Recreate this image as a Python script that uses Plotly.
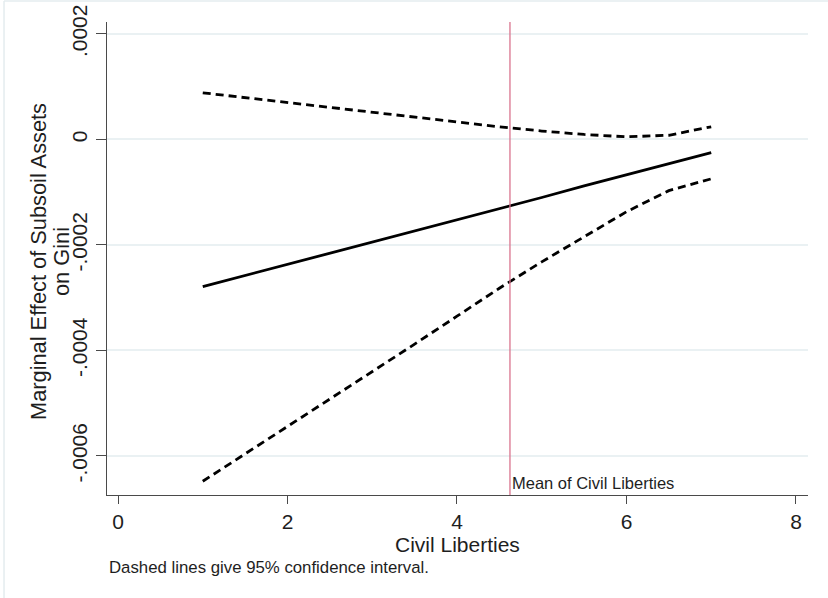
import plotly.graph_objects as go

# Civil Liberties values at which the marginal effect is evaluated
civil_liberties = [1, 1.5, 2, 2.5, 3, 3.5, 4, 4.5, 5, 5.5, 6, 6.5, 7]

# Marginal effect of subsoil assets on Gini, with 95% confidence bounds
marginal_effect = [-0.000279, -0.000258, -0.000237, -0.000215, -0.000194, -0.000173,
                   -0.000152, -0.000131, -0.000110, -0.000088, -0.000067, -0.000046,
                   -0.000025]
upper_bound = [0.0000885, 0.0000792, 0.0000699, 0.0000607, 0.0000514, 0.0000421,
               0.0000328, 0.0000240, 0.0000160, 0.0000095, 0.0000050, 0.0000080,
               0.0000241]
lower_bound = [-0.000648, -0.000596, -0.000544, -0.000493, -0.000440, -0.000388,
               -0.000335, -0.000282, -0.000232, -0.000185, -0.000137, -0.000097,
               -0.0000746]

mean_civil_liberties = 4.625

x_ticks = [0, 2, 4, 6, 8]
y_ticks = [0.0002, 0, -0.0002, -0.0004, -0.0006]
y_tick_labels = [".0002", "0", "-.0002", "-.0004", "-.0006"]

FONT = "Liberation Sans, Arial, sans-serif"
TEXT = "#1e1e1e"
GRID = "#eaf1f3"
AXIS = "#4a4a4a"

fig = go.Figure()

fig.add_trace(go.Scatter(
    x=civil_liberties, y=marginal_effect, mode="lines",
    line=dict(color="black", width=2.8), showlegend=False))
fig.add_trace(go.Scatter(
    x=civil_liberties, y=upper_bound, mode="lines",
    line=dict(color="black", width=2.8, dash="8px,5px"), showlegend=False))
fig.add_trace(go.Scatter(
    x=civil_liberties, y=lower_bound, mode="lines",
    line=dict(color="black", width=2.8, dash="8px,5px"), showlegend=False))

# vertical reference line at the mean
fig.add_shape(type="line", xref="x", yref="y domain",
              x0=mean_civil_liberties, x1=mean_civil_liberties, y0=0, y1=1,
              line=dict(color="#d9748e", width=1.3), layer="above")
fig.add_annotation(x=mean_civil_liberties, y=0, xref="x", yref="y domain",
                   text="Mean of Civil Liberties", showarrow=False,
                   xanchor="left", yanchor="bottom", xshift=0, yshift=1,
                   font=dict(family=FONT, size=16.5, color=TEXT))

# y-axis title, two rotated lines
fig.add_annotation(x=-0.0984, y=0.4926, xref="paper", yref="paper",
                   text="Marginal Effect of Subsoil Assets",
                   textangle=-90, showarrow=False, xanchor="center", yanchor="middle",
                   font=dict(family=FONT, size=21.8, color=TEXT))
fig.add_annotation(x=-0.0655, y=0.4926, xref="paper", yref="paper",
                   text="on Gini",
                   textangle=-90, showarrow=False, xanchor="center", yanchor="middle",
                   font=dict(family=FONT, size=21.8, color=TEXT))

# x-axis title
fig.add_annotation(x=0.5, y=-0.1045, xref="paper", yref="paper",
                   text="Civil Liberties", showarrow=False,
                   xanchor="center", yanchor="middle",
                   font=dict(family=FONT, size=21, color=TEXT))

# footnote
fig.add_annotation(x=0.0, y=-0.154, xref="paper", yref="paper",
                   text="Dashed lines give 95% confidence interval.", showarrow=False,
                   xanchor="left", yanchor="middle",
                   font=dict(family=FONT, size=16.8, color=TEXT))

# light outer frame (top and left edges)
fig.add_shape(type="line", xref="paper", yref="paper",
              x0=-0.1469, x1=1.03, y0=1.0444, y1=1.0444,
              line=dict(color="#e4ecef", width=1.5))
fig.add_shape(type="line", xref="paper", yref="paper",
              x0=-0.1469, x1=-0.1469, y0=1.0444, y1=-0.22,
              line=dict(color="#e4ecef", width=1.5))

fig.update_xaxes(
    range=[-0.13, 8.142], tickvals=x_ticks, ticktext=[str(v) for v in x_ticks],
    showgrid=False, zeroline=False, showline=True, linecolor=AXIS, linewidth=1.3,
    ticks="outside", ticklen=8, tickcolor=AXIS, tickwidth=1.3,
    tickfont=dict(family=FONT, size=21, color=TEXT),
    automargin=False,
)
fig.update_yaxes(
    range=[-0.000674, 0.0002227], tickvals=y_ticks, ticktext=y_tick_labels,
    tickangle=-90, showgrid=True, gridcolor=GRID, gridwidth=1.5,
    zeroline=False, showline=True, linecolor=AXIS, linewidth=1.3,
    ticks="outside", ticklen=10, tickcolor=AXIS, tickwidth=1.3,
    tickfont=dict(family=FONT, size=21, color=TEXT),
    automargin=False,
)

fig.update_layout(
    width=828, height=598,
    margin=dict(l=107, r=20, t=22, b=103),
    paper_bgcolor="white", plot_bgcolor="white",
    showlegend=False,
)

fig.write_html("out.html")
